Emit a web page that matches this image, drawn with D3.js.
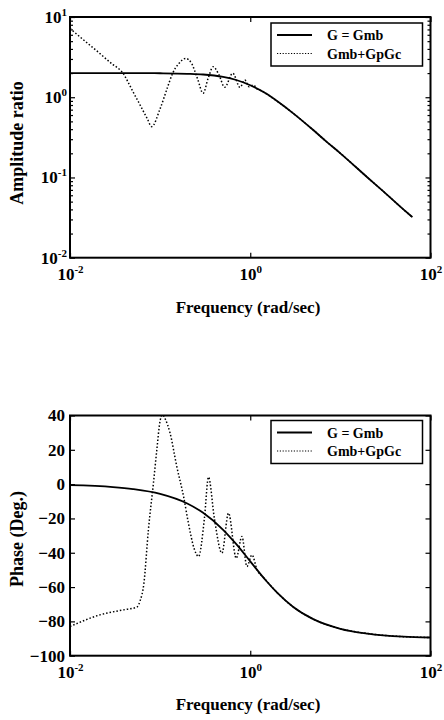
<!DOCTYPE html>
<html>
<head>
<meta charset="utf-8">
<script src="https://cdn.jsdelivr.net/npm/d3@7"></script>
<style>
  body { margin: 0; background: #fff; }
  text { font-family: "Liberation Serif", "Times New Roman", serif; font-weight: bold; fill: #000; }
</style>
</head>
<body>
<svg id="chart" width="444" height="720"></svg>
<script>
// x ticks (rad/sec), shared by both panels
var freqTicks = [0.01, 1, 100];

// amplitude ratio panel
var ampTicks = [0.01, 0.1, 1, 10];
var ampMinor = [];
[0.01, 0.1, 1].forEach(function (p) { [2,3,4,5,6,7,8,9].forEach(function (k) { ampMinor.push(p * k); }); });

var freqAmpG = [0.01, 0.05, 0.1, 0.2, 0.3, 0.5, 0.7, 1, 1.5, 2, 3, 5, 7, 10, 20, 30, 50, 63];
var ampG     = [2.0, 2.0, 1.99, 1.96, 1.92, 1.79, 1.64, 1.41, 1.11, 0.89, 0.63, 0.39, 0.28, 0.2, 0.1, 0.067, 0.04, 0.032];

var freqAmpGc = [0.01, 0.015, 0.02, 0.03, 0.035, 0.039, 0.044, 0.05, 0.058, 0.0646, 0.072, 0.0805, 0.1, 0.12, 0.138, 0.16, 0.192, 0.225, 0.26, 0.30,
                 0.34, 0.388, 0.45, 0.52, 0.64, 0.77, 0.87, 0.97, 1.08, 1.2, 1.35, 1.5, 2, 3, 5, 7, 10, 20, 30, 50, 63];
var ampGc     = [7.2, 4.9, 3.75, 2.55, 2.25, 1.98, 1.55, 1.17, 0.86, 0.68, 0.54, 0.43, 0.72, 1.3, 2.0, 2.6, 3.05, 2.6, 1.7, 1.12,
                 1.7, 2.4, 1.9, 1.33, 1.99, 1.33, 1.64, 1.35, 1.42, 1.26, 1.2, 1.11, 0.89, 0.63, 0.39, 0.28, 0.2, 0.1, 0.067, 0.04, 0.032];

// phase panel
var phaseTicks = [-100, -80, -60, -40, -20, 0, 20, 40];

var freqPhG = [0.01, 0.03, 0.05, 0.1, 0.2, 0.3, 0.5, 0.7, 1, 1.5, 2, 3, 5, 10, 20, 50, 100];
var phG     = [-0.6, -1.7, -2.9, -5.7, -11.3, -16.7, -26.6, -35, -45, -56.3, -63.4, -71.6, -78.7, -84.3, -87.1, -88.9, -89.4];

var freqPhGc = [0.01, 0.0215, 0.039, 0.055, 0.06, 0.066, 0.0741, 0.0843, 0.0919, 0.1, 0.106, 0.115, 0.129, 0.153, 0.182, 0.206,
                0.24, 0.267, 0.31, 0.344, 0.40, 0.485, 0.574, 0.699, 0.809, 0.918, 1.045, 1.19, 1.41, 2, 3, 5, 10, 20, 50, 100];
var phGc     = [-83, -76.2, -73.3, -71.7, -68, -58, -26.6, 0.6, 20, 37, 40.4, 37.5, 29.7, 10.3, -7.2, -22.7,
                -38, -42.2, -20, 4.1, -20, -40.2, -16.9, -43.2, -30.5, -48, -41.2, -50, -54.5, -63.4, -71.6, -78.7, -84.3, -87.1, -88.9, -89.4];

var legendNames = ["G = Gmb", "Gmb+GpGc"];

var svg = d3.select("#chart");

function supLabel(sel, d) {
  sel.text("");
  sel.append("tspan").text("10");
  sel.append("tspan").attr("dy", -7).attr("font-size", 11).text(Math.round(Math.log10(d)));
}

function panel(top, bottom, yScale, yTicks, yMinor, logY, series, yTitle, yTitleY, xTitleY, legendTop) {
  var x = d3.scaleLog().domain([0.01, 100]).range([70, 430.5]);
  var y = yScale.range([bottom, top]);
  var g = svg.append("g");

  // ticks, all pointing into the plot
  var left = g.append("g").attr("transform", "translate(70,0)")
    .call(d3.axisLeft(y).tickValues(yTicks).tickSizeInner(-5).tickSizeOuter(0).tickPadding(logY ? 3 : 5));
  left.selectAll(".tick text").attr("font-size", 17).attr("font-family", null)
    .each(function (d) { if (logY) supLabel(d3.select(this), d); });
  g.append("g").attr("transform", "translate(430.5,0)")
    .call(d3.axisRight(y).tickValues(yTicks).tickSizeInner(-5).tickSizeOuter(0).tickFormat(""));
  if (yMinor) {
    g.append("g").attr("transform", "translate(70,0)")
      .call(d3.axisLeft(y).tickValues(yMinor).tickSizeInner(-3).tickSizeOuter(0).tickFormat(""));
    g.append("g").attr("transform", "translate(430.5,0)")
      .call(d3.axisRight(y).tickValues(yMinor).tickSizeInner(-3).tickSizeOuter(0).tickFormat(""));
  }
  var bot = g.append("g").attr("transform", "translate(0," + bottom + ")")
    .call(d3.axisBottom(x).tickValues(freqTicks).tickSizeInner(-5).tickSizeOuter(0).tickPadding(10));
  bot.selectAll(".tick text").attr("font-size", 17).attr("font-family", null)
    .each(function (d) { supLabel(d3.select(this), d); });
  g.append("g").attr("transform", "translate(0," + top + ")")
    .call(d3.axisTop(x).tickValues(freqTicks).tickSizeInner(-5).tickSizeOuter(0).tickFormat(""));
  g.selectAll(".domain").remove();
  g.selectAll(".tick line").attr("stroke", "#000").attr("stroke-width", 1.2);

  // curves
  var clip = "clip" + top;
  g.append("clipPath").attr("id", clip).append("rect")
    .attr("x", 70).attr("y", top).attr("width", 360.5).attr("height", bottom - top);
  series.forEach(function (s) {
    var line = d3.line()
      .x(function (d) { return x(d[0]); })
      .y(function (d) { return y(d[1]); })
      .curve(d3.curveMonotoneX);
    g.append("path")
      .datum(d3.zip(s.f, s.v))
      .attr("clip-path", "url(#" + clip + ")")
      .attr("fill", "none")
      .attr("stroke", "#000")
      .attr("stroke-width", s.dash ? 1.5 : 1.8)
      .attr("stroke-dasharray", s.dash ? "1.5,2" : null)
      .attr("d", line);
  });

  // frame
  g.append("rect").attr("x", 70).attr("y", top).attr("width", 360.5).attr("height", bottom - top)
    .attr("fill", "none").attr("stroke", "#000").attr("stroke-width", 2);

  // legend
  var lg = g.append("g").attr("transform", "translate(271," + legendTop + ")");
  lg.append("rect").attr("width", 151.5).attr("height", 43).attr("fill", "#fff")
    .attr("stroke", "#000").attr("stroke-width", 1.5);
  legendNames.forEach(function (name, i) {
    var ly = 12 + i * 18.5;
    lg.append("line").attr("x1", 6).attr("x2", 41).attr("y1", ly).attr("y2", ly)
      .attr("stroke", "#000").attr("stroke-width", i ? 1.2 : 1.8)
      .attr("stroke-dasharray", i ? "1.2,1.6" : null);
    lg.append("text").attr("x", 56).attr("y", ly + 5).attr("font-size", 14).text(name);
  });

  // titles
  svg.append("text").attr("transform", "translate(23," + yTitleY + ") rotate(-90)")
    .attr("text-anchor", "middle").attr("font-size", 18).text(yTitle);
  svg.append("text").attr("x", 248).attr("y", xTitleY)
    .attr("text-anchor", "middle").attr("font-size", 17).text("Frequency (rad/sec)");
}

panel(17, 257.7, d3.scaleLog().domain([0.01, 10]), ampTicks, ampMinor, true,
  [{f: freqAmpG, v: ampG, dash: false}, {f: freqAmpGc, v: ampGc, dash: true}],
  "Amplitude ratio", 143, 313, 23);

panel(415.5, 655.7, d3.scaleLinear().domain([-100, 40]), phaseTicks, null, false,
  [{f: freqPhG, v: phG, dash: false}, {f: freqPhGc, v: phGc, dash: true}],
  "Phase (Deg.)", 539, 709.5, 420.5);
</script>
</body>
</html>
